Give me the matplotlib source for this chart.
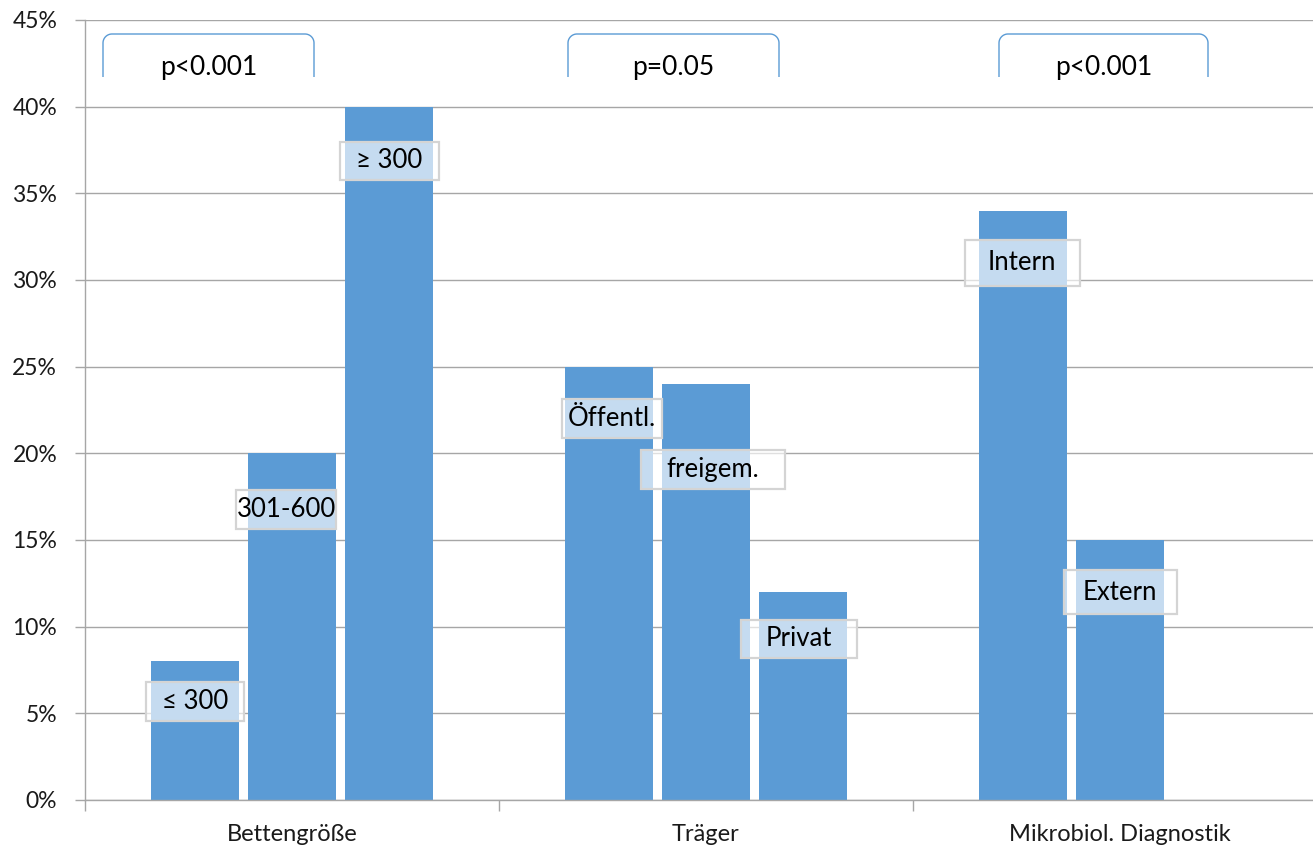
import matplotlib
matplotlib.use("Agg")
import matplotlib.pyplot as plt
from matplotlib.patches import Rectangle
from matplotlib.ticker import FixedLocator, FuncFormatter
import numpy as np

plt.rcParams['font.family'] = ['Lato', 'DejaVu Sans']

# --- data -------------------------------------------------------------
categories = ["Bettengröße", "Träger", "Mikrobiol. Diagnostik"]
bett_labels = ["≤ 300", "301-600", "≥ 300"]
bett_values = [8, 20, 40]
traeger_labels = ["Öffentl.", "freigem.", "Privat"]
traeger_values = [25, 24, 12]
mikro_labels = ["Intern", "Extern"]
mikro_values = [34, 15]
p_labels = ["p<0.001", "p=0.05", "p<0.001"]
y_ticks = [0, 5, 10, 15, 20, 25, 30, 35, 40, 45]

groups = [(bett_labels, bett_values),
          (traeger_labels, traeger_values),
          (mikro_labels, mikro_values)]

# --- styling ------------------------------------------------------------
BAR = "#5B9BD5"
GRID = "#A6A6A6"
TXT = "#1a1a1a"
W, H, DPI = 1313, 851, 100
AX_L, AX_B, AX_W, AX_H = 85, 51, 1242, 780   # axes box in pixels

# label box placement (pixel offsets from bar centre / bar top, box size)
box_dx = [[0, -6, 0], [3, 7, -4], [-1, 0]]
box_dy = [[40, 56, 54], [52, 86, 47], [52, 52]]
box_w = [[98, 100, 99], [100, 144, 116], [115, 113]]
box_h = [[39, 39, 38], [39, 39, 38], [46, 44]]
# bracket extents in pixels relative to category centre
br_x = [(-189, 22), (-138, 73), (-121, 88)]
br_top, br_bot, br_txt = 34, 77, 68

fig = plt.figure(figsize=(W / DPI, H / DPI), dpi=DPI)
ax = fig.add_axes([AX_L / W, AX_B / H, AX_W / W, AX_H / H])
ax.set_xlim(-0.5, 2.5)
ax.set_ylim(0, 45)

px_x = 3.0 / AX_W          # data units per pixel, x
px_y = 45.0 / AX_H         # data units per pixel, y
ax_top_row = H - AX_B - AX_H


def ypix(row):
    """figure row (from the top) -> data y"""
    return 45.0 - (row - ax_top_row) * px_y


bar_w = 88 * px_x
step = 97 * px_x

ax.set_axisbelow(True)
ax.yaxis.grid(True, color=GRID, linewidth=1.0)

for gi, (labels, values) in enumerate(groups):
    offsets = (np.arange(3) - 1) * step
    for bi, (lab, val) in enumerate(zip(labels, values)):
        xc = gi + offsets[bi]
        ax.bar(xc, val, width=bar_w, color=BAR, linewidth=0, zorder=2)
        cx = xc + box_dx[gi][bi] * px_x
        cy = val - box_dy[gi][bi] * px_y
        bw = box_w[gi][bi] * px_x
        bh = box_h[gi][bi] * px_y
        ax.add_patch(Rectangle((cx - bw / 2, cy - bh / 2), bw, bh,
                               facecolor=(1, 1, 1, 0.65), edgecolor="#D4D4D4",
                               linewidth=1.6, zorder=3))
        ax.text(cx, cy, lab, ha="center", va="center", fontsize=18.5,
                color="black", zorder=4)

# significance brackets
r_px = 9
for gi, ((x0p, x1p), ptxt) in enumerate(zip(br_x, p_labels)):
    x0 = gi + x0p * px_x
    x1 = gi + x1p * px_x
    yt = ypix(br_top)
    yb = ypix(br_bot)
    t = np.linspace(0, np.pi / 2, 20)
    rx, ry = r_px * px_x, r_px * px_y
    left_arc_x = x0 + rx - rx * np.cos(t)
    left_arc_y = yt - ry + ry * np.sin(t)
    right_arc_x = x1 - rx + rx * np.cos(t[::-1])
    right_arc_y = yt - ry + ry * np.sin(t[::-1])
    xs = np.concatenate([[x0], left_arc_x, right_arc_x, [x1]])
    ys = np.concatenate([[yb], left_arc_y, right_arc_y, [yb]])
    ax.plot(xs, ys, color=BAR, linewidth=1.0, clip_on=False, zorder=3,
            solid_capstyle="butt")
    ax.text((x0 + x1) / 2, ypix(br_txt), ptxt, ha="center", va="center",
            fontsize=19, color="black", zorder=4)

# axes cosmetics
for s in ["top", "right"]:
    ax.spines[s].set_visible(False)
ax.spines["left"].set_color(GRID)
ax.spines["bottom"].set_color(GRID)
ax.spines["left"].set_linewidth(1.0)
ax.spines["bottom"].set_linewidth(1.0)

ax.yaxis.set_major_locator(FixedLocator(y_ticks))
ax.yaxis.set_major_formatter(FuncFormatter(lambda v, _: f"{int(v)}%"))
ax.tick_params(axis="y", length=7, width=1.0, color=GRID, labelsize=16.5,
               labelcolor=TXT, pad=13)

ax.set_xticks([0, 1, 2])
ax.set_xticklabels(categories)
ax.set_xticks([-0.5, 0.5, 1.5, 2.5], minor=True)
ax.tick_params(axis="x", which="major", length=0, labelsize=17,
               labelcolor=TXT, pad=17)
ax.tick_params(axis="x", which="minor", length=8, width=1.0, color=GRID,
               direction="out")

fig.savefig("out.png", dpi=DPI)
